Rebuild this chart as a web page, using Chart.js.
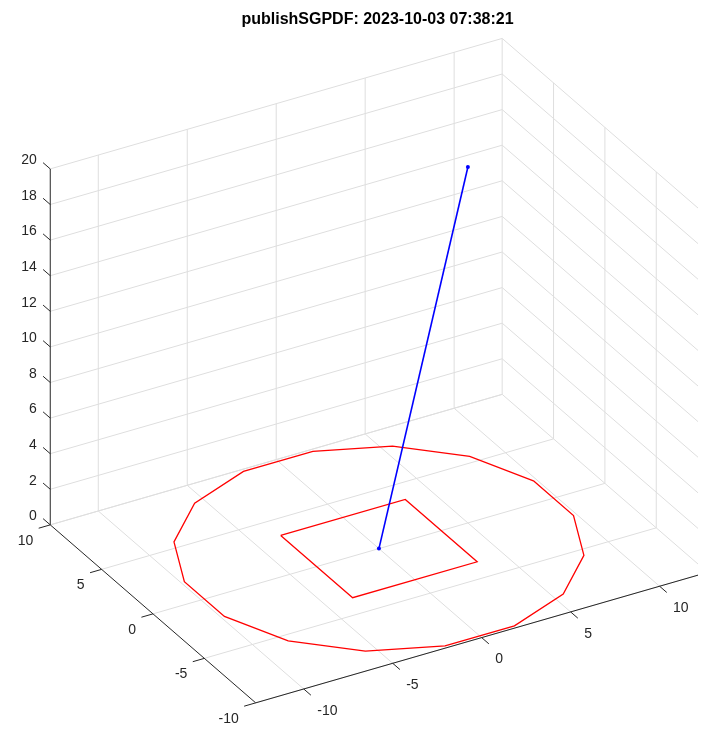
<!DOCTYPE html>
<html>
<head>
<meta charset="utf-8">
<script src="https://cdn.jsdelivr.net/npm/chart.js@4/dist/chart.umd.min.js"></script>
<style>
  html, body { margin: 0; padding: 0; background: #fff; }
  #wrap { width: 702px; height: 731px; position: relative; }
</style>
</head>
<body>
<div id="wrap"><canvas id="plot"></canvas></div>
<script>
// ---- data ----
const chartTitle = 'publishSGPDF: 2023-10-03 07:38:21';

const xTicks = [-10, -5, 0, 5, 10];
const yTicks = [-10, -5, 0, 5, 10];
const zTicks = [0, 2, 4, 6, 8, 10, 12, 14, 16, 18, 20];
const xLim = [-12.7, 12.7];
const yLim = [-10, 10];
const zLim = [0, 20];

// red ring (16-sided), z = 0
const ringX = [9.81, 8.31, 5.56, 1.95, -1.95, -5.56, -8.31, -9.81, -9.81, -8.31, -5.56, -1.95, 1.95, 5.56, 8.31, 9.81, 9.81];
const ringY = [1.95, 5.56, 8.31, 9.81, 9.81, 8.31, 5.56, 1.95, -1.95, -5.56, -8.31, -9.81, -9.81, -8.31, -5.56, -1.95, 1.95];

// red square, z = 0
const squareX = [-3.5, 3.5, 3.5, -3.5, -3.5];
const squareY = [3.5, 3.5, -3.5, -3.5, 3.5];

// blue stem
const stemX = [0, 5];
const stemY = [0, 0];
const stemZ = [0, 20];

// ---- view (az/el like MATLAB) ----
const AZ = -30, EL = 30;
const az = AZ * Math.PI / 180, el = EL * Math.PI / 180;
function proj(x, y, z) {
  return {
    x: Math.cos(az) * x + Math.sin(az) * y,
    y: -Math.sin(el) * Math.sin(az) * x + Math.sin(el) * Math.cos(az) * y + Math.cos(el) * z
  };
}

const GRID = '#dedede';
const AXIS = '#262626';
const datasets = [];

function addLine(pts, color, width, order, radius) {
  datasets.push({
    data: pts.map(p => proj(p[0], p[1], p[2])),
    borderColor: color,
    backgroundColor: color,
    borderWidth: width,
    pointRadius: radius || 0,
    pointBorderWidth: 0,
    showLine: true,
    fill: false,
    order: order
  });
}

// grid: floor, back wall (y = max), right wall (x = max)
xTicks.forEach(t => addLine([[t, yLim[0], 0], [t, yLim[1], 0]], GRID, 1, 5));
yTicks.forEach(t => addLine([[xLim[0], t, 0], [xLim[1], t, 0]], GRID, 1, 5));
xTicks.forEach(t => addLine([[t, yLim[1], zLim[0]], [t, yLim[1], zLim[1]]], GRID, 1, 5));
zTicks.forEach(t => addLine([[xLim[0], yLim[1], t], [xLim[1], yLim[1], t]], GRID, 1, 5));
yTicks.forEach(t => addLine([[xLim[1], t, zLim[0]], [xLim[1], t, zLim[1]]], GRID, 1, 5));
zTicks.forEach(t => addLine([[xLim[1], yLim[0], t], [xLim[1], yLim[1], t]], GRID, 1, 5));

// axes
addLine([[xLim[0], yLim[1], zLim[0]], [xLim[0], yLim[1], zLim[1]]], AXIS, 1, 4);
addLine([[xLim[0], yLim[0], 0], [xLim[0], yLim[1], 0]], AXIS, 1, 4);
addLine([[xLim[0], yLim[0], 0], [xLim[1], yLim[0], 0]], AXIS, 1, 4);

// tick marks
zTicks.forEach(t => addLine([[xLim[0], yLim[1], t], [xLim[0], yLim[1] + 0.7, t]], AXIS, 1, 4));
yTicks.forEach(t => addLine([[xLim[0], t, 0], [xLim[0] - 0.65, t, 0]], AXIS, 1, 4));
xTicks.forEach(t => addLine([[t, yLim[0], 0], [t, yLim[0] - 0.7, 0]], AXIS, 1, 4));

// data
addLine(ringX.map((v, i) => [v, ringY[i], 0]), '#ff0000', 1.3, 2);
addLine(squareX.map((v, i) => [v, squareY[i], 0]), '#ff0000', 1.3, 2);
addLine(stemX.map((v, i) => [v, stemY[i], stemZ[i]]), '#0000ff', 1.6, 1, 2);

const labels3d = {
  id: 'labels3d',
  afterDatasetsDraw(chart) {
    const ctx = chart.ctx;
    const sx = chart.scales.x, sy = chart.scales.y;
    const px = (x, y, z) => {
      const p = proj(x, y, z);
      return [sx.getPixelForValue(p.x), sy.getPixelForValue(p.y)];
    };
    ctx.save();
    ctx.fillStyle = AXIS;
    ctx.font = '14px "Liberation Sans", Arial, sans-serif';
    ctx.textBaseline = 'middle';

    ctx.textAlign = 'right';
    zTicks.forEach(t => {
      const [a, b] = px(xLim[0], yLim[1], t);
      ctx.fillText(String(t), a - 13.5, b - 8.5);
    });
    yTicks.forEach(t => {
      const [a, b] = px(xLim[0], t, 0);
      ctx.fillText(String(t), a - 17, b + 16);
    });
    ctx.textAlign = 'left';
    xTicks.forEach(t => {
      const [a, b] = px(t, yLim[0], 0);
      ctx.fillText(String(t), a + 13.5, b + 22);
    });

    ctx.font = 'bold 16px "Liberation Sans", Arial, sans-serif';
    ctx.fillStyle = '#000';
    ctx.textAlign = 'center';
    ctx.fillText(chartTitle, 377.5, 20);
    ctx.restore();
  }
};

new Chart(document.getElementById('plot'), {
  type: 'scatter',
  data: { datasets },
  options: {
    responsive: true,
    maintainAspectRatio: false,
    animation: false,
    layout: { padding: 0 },
    plugins: { legend: { display: false }, tooltip: { enabled: false } },
    scales: {
      x: { type: 'linear', min: -18.25, max: 15.53, display: false },
      y: { type: 'linear', min: -8.68, max: 26.5, display: false }
    }
  },
  plugins: [labels3d]
});
</script>
</body>
</html>
